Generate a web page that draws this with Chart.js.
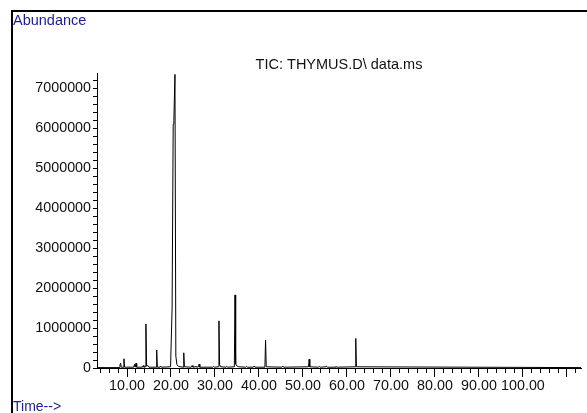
<!DOCTYPE html>
<html><head><meta charset="utf-8">
<script src="https://cdn.jsdelivr.net/npm/chart.js@4.4.1/dist/chart.umd.min.js"></script>
<style>
html,body{margin:0;padding:0;background:#fff;overflow:hidden;width:587px;height:413px}
#wrap{position:relative;width:587px;height:413px;overflow:hidden}
canvas{position:absolute;left:0;top:0}
#frame{position:absolute;left:11px;top:10px;width:700px;height:600px;border-left:2px solid #000;border-top:2px solid #000}
.lab{position:absolute;font-family:"Liberation Sans",Arial,sans-serif;color:#1c1c9e;line-height:15px;white-space:nowrap}
</style></head><body>
<div id="wrap"><canvas id="c" width="587" height="413"></canvas><div id="frame"></div>
<div class="lab" style="left:13px;top:13px;font-size:14.5px">Abundance</div>
<div class="lab" style="left:13px;top:399px;font-size:14px">Time--&gt;</div>
</div>
<script>
// Retention time (min)
const times = [3.18, 8.2, 8.4, 8.55, 8.7, 9.1, 9.3, 9.45, 11.5, 11.7, 11.85, 12.05, 12.2, 13.5, 13.7, 13.85,
  14.15, 14.3, 14.45, 14.75, 15.0, 16.6, 16.75, 16.9, 17.5, 17.65, 17.8, 19.9, 20.25, 20.5, 20.65, 20.9,
  21.1, 21.35, 21.7, 22.75, 22.9, 23.05, 24.6, 24.8, 25.0, 25.5, 25.65, 25.8, 26.25, 26.4, 26.55, 29.5,
  29.7, 29.9, 30.75, 30.9, 31.05, 31.3, 32.5, 32.7, 32.9, 34.4, 34.55, 34.7, 35.0, 35.4, 37.0, 37.2,
  37.4, 38.7, 38.9, 39.1, 41.35, 41.5, 41.65, 45.2, 45.4, 45.6, 51.25, 51.4, 51.55, 53.5, 53.7, 53.9,
  55.2, 55.4, 55.6, 57.3, 57.5, 57.7, 61.85, 62.0, 62.15, 113.2];
// Abundance (counts)
const abundance = [10000, 10000, 80000, 120000, 20000, 20000, 230000, 20000, 20000, 90000, 20000, 120000, 20000, 20000, 60000, 20000,
  30000, 1100000, 50000, 60000, 20000, 20000, 450000, 20000, 20000, 50000, 20000, 30000, 1500000, 6100000, 6200000, 7350000,
  300000, 80000, 40000, 20000, 380000, 30000, 20000, 60000, 20000, 30000, 50000, 20000, 30000, 100000, 20000, 20000,
  40000, 20000, 30000, 1180000, 80000, 30000, 20000, 40000, 20000, 30000, 1830000, 100000, 50000, 30000, 20000, 40000,
  20000, 20000, 50000, 20000, 20000, 700000, 30000, 20000, 50000, 20000, 30000, 220000, 30000, 20000, 40000, 20000,
  30000, 40000, 20000, 20000, 40000, 20000, 30000, 740000, 30000, 10000];

const xTickValues = [4,6,8,10,12,14,16,18,20,22,24,26,28,30,32,34,36,38,40,42,44,46,48,50,52,54,56,58,60,62,64,66,68,70,72,74,76,78,80,82,84,86,88,90,92,94,96,98,100,102,104,106,108,110,112];
const xTickLabels = {10:'10.00',20:'20.00',30:'30.00',40:'40.00',50:'50.00',60:'60.00',70:'70.00',80:'80.00',90:'90.00',100:'100.00'};
const yTickValues = [];
for (let v = 0; v <= 7200000; v += 200000) yTickValues.push(v);
const yTickLabels = {0:'0',1000000:'1000000',2000000:'2000000',3000000:'3000000',4000000:'4000000',5000000:'5000000',6000000:'6000000',7000000:'7000000'};

const points = times.map((t, i) => ({x: t, y: abundance[i]}));
const tickFont = {family: '"Liberation Sans", Arial, sans-serif', size: 14.3};

new Chart(document.getElementById('c'), {
  type: 'line',
  data: {datasets: [{data: points, borderColor: '#000', borderWidth: 1, pointRadius: 0, tension: 0, fill: false}]},
  options: {
    responsive: false, animation: false, devicePixelRatio: 1,
    layout: {padding: {left: 0, right: 6, top: 0, bottom: 0}},
    plugins: {
      legend: {display: false}, tooltip: {enabled: false},
      title: {display: true, text: 'TIC: THYMUS.D\\ data.ms', color: '#111', fullSize: false,
        font: {family: '"Liberation Sans", Arial, sans-serif', size: 14.5, weight: 'normal'},
        padding: {top: 56, bottom: 0}}
    },
    scales: {
      x: {
        type: 'linear', min: 3.18, max: 113.2,
        afterBuildTicks: s => { s.ticks = xTickValues.map(v => ({value: v})); },
        afterFit: s => { s.height = 45; },
        ticks: {autoSkip: false, maxRotation: 0, padding: 0, color: '#111', font: tickFont,
          callback: v => xTickLabels[v] || ''},
        grid: {drawOnChartArea: false, tickLength: 9, tickColor: '#000', tickWidth: 1,
          tickBorderDash: ctx => (ctx.tick && ctx.tick.value % 10 === 0) ? [] : [4, 20]},
        border: {display: true, color: '#000', width: 1}
      },
      y: {
        type: 'linear', min: 0, max: 7375000,
        afterBuildTicks: s => { s.ticks = yTickValues.map(v => ({value: v})); },
        afterFit: s => { s.width = 97; },
        ticks: {autoSkip: false, padding: 2, color: '#111', font: tickFont,
          callback: v => yTickLabels[v] || ''},
        grid: {drawOnChartArea: false, tickLength: 4, tickColor: '#000', tickWidth: 1},
        border: {display: true, color: '#000', width: 1}
      }
    }
  }
});
</script>
</body></html>
